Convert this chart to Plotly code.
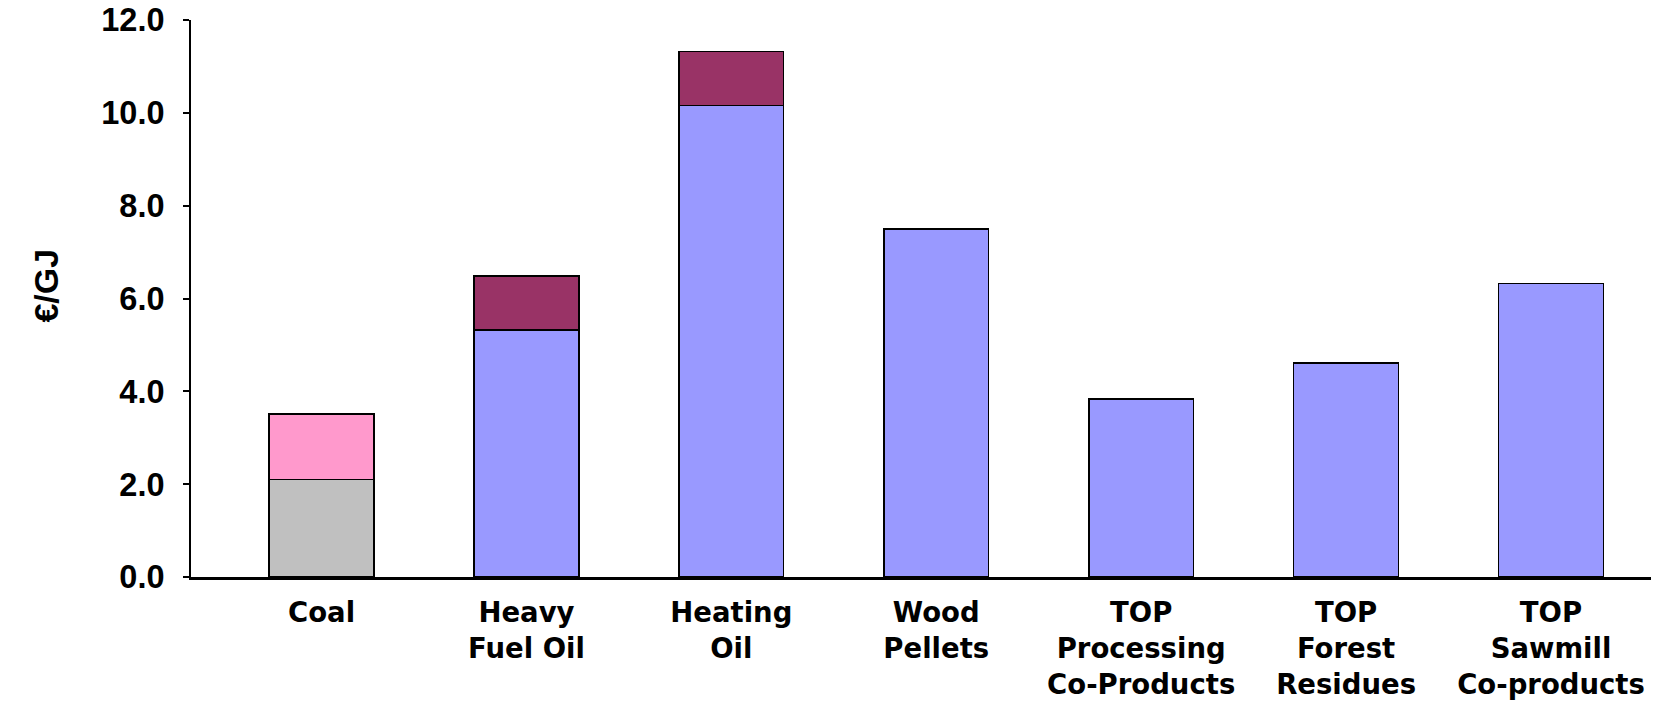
import plotly.graph_objects as go

categories = ["Coal", "Heavy<br>Fuel Oil", "Heating<br>Oil", "Wood<br>Pellets",
              "TOP<br>Processing<br>Co-Products", "TOP<br>Forest<br>Residues",
              "TOP<br>Sawmill<br>Co-products"]
coal_base = [2.10, None, None, None, None, None, None]
fuel_base = [None, 5.32, 10.16, 7.50, 3.83, 4.61, 6.32]
coal_top = [1.41, None, None, None, None, None, None]
oil_top = [None, 1.16, 1.16, None, None, None, None]
y_ticks = [0, 2, 4, 6, 8, 10, 12]
y_tick_labels = ["0.0", "2.0", "4.0", "6.0", "8.0", "10.0", "12.0"]

xpos = list(range(len(categories)))
FONT = "Liberation Sans, Arial, sans-serif"
CAT_FONT = "DejaVu Sans, Liberation Sans, sans-serif"
line = dict(color="black", width=1.5)

fig = go.Figure()
fig.add_trace(go.Bar(x=xpos, y=coal_base, marker=dict(color="#C0C0C0", line=line), width=0.511))
fig.add_trace(go.Bar(x=xpos, y=fuel_base, marker=dict(color="#9999FF", line=line), width=0.511))
fig.add_trace(go.Bar(x=xpos, y=coal_top, marker=dict(color="#FF99CC", line=line), width=0.511))
fig.add_trace(go.Bar(x=xpos, y=oil_top, marker=dict(color="#993366", line=line), width=0.511))

fig.update_layout(
    barmode="stack",
    showlegend=False,
    width=1643, height=692,
    margin=dict(l=183, r=0, t=12, b=123, autoexpand=False),
    plot_bgcolor="white", paper_bgcolor="white",
    font=dict(family=FONT, size=30, color="black"),
    xaxis=dict(
        tickvals=xpos, ticktext=["<b>%s</b>" % c.replace("<br>", "</b><br><b>") for c in categories],
        range=[-0.637, 6.488], showline=True, linecolor="black", linewidth=3,
        ticks="", showgrid=False, zeroline=False, automargin=False,
        tickfont=dict(family=CAT_FONT, size=27.5, color="black"),
        ticklabelstandoff=9,
    ),
    yaxis=dict(
        range=[0, 12], tickvals=y_ticks, ticktext=["<b>%s</b>" % t for t in y_tick_labels],
        showline=True, linecolor="black", linewidth=2, ticks="outside", ticklen=6,
        tickcolor="black", tickwidth=2, showgrid=False, zeroline=False, automargin=False,
        tickfont=dict(family=FONT, size=32.5, color="black"),
        ticklabelstandoff=12, ticklabeloverflow="allow",
    ),
    annotations=[dict(
        text="<b>€/GJ</b>", xref="paper", yref="paper", x=-0.099, y=0.524,
        xanchor="center", yanchor="middle", textangle=-90, showarrow=False,
        font=dict(family=FONT, size=34, color="black"),
    )],
)

fig.write_html("out.html")
